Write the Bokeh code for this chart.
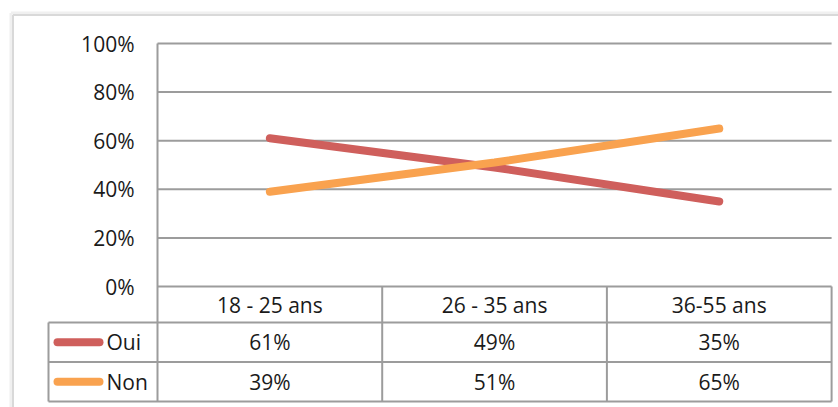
from bokeh.plotting import figure
from bokeh.models import Range1d
from bokeh.embed import file_html
from bokeh.resources import INLINE
from bokeh.core.properties import value

# ---- data ----
categories = ["18 - 25 ans", "26 - 35 ans", "36-55 ans"]
series_names = ["Oui", "Non"]
oui = [61, 49, 35]
non = [39, 51, 65]
y_ticks = [0, 20, 40, 60, 80, 100]
y_tick_labels = ["0%", "20%", "40%", "60%", "80%", "100%"]
colors = ["#cf5f5c", "#f9a24f"]

# ---- style / layout ----
FONT = "Open Sans"
FS = "21px"
TXT = "#1a1a1a"
GRID = "#9c9c9c"
BOX = "#d9d9d9"
SHADOW = "#f0f0f0"

W, H = 838, 407
PLOT_LEFT = 157.0      # px of first category boundary
U = 224.7              # px per category
ZERO_PY = 286.0        # px of 0%
PPP = 2.43             # px per percent
HEADER_BOTTOM = 322.0
ROW_H = 39.5
TABLE_LEFT = 48.0
LABEL_RIGHT = 134.0


def X(px):
    return (px - PLOT_LEFT) / U - 0.5


def Y(py):
    return (ZERO_PY - py) / PPP


n = len(categories)
nr = len(series_names)
xs = list(range(n))
series = [oui, non]

p = figure(width=W, height=H, x_range=Range1d(X(0), X(W)),
           y_range=Range1d(Y(H), Y(0)), output_backend="svg",
           toolbar_location=None, x_axis_location=None, y_axis_location=None,
           min_border=0, outline_line_color=None, background_fill_color="white")
p.xgrid.visible = False
p.ygrid.visible = False

# outer chart box (left + top edges, with a faint shadow)
p.segment(x0=[X(10.5), X(10.5)], y0=[Y(12.5), Y(12.5)],
          x1=[X(10.5), X(W + 5)], y1=[Y(H + 5), Y(12.5)],
          line_color=SHADOW, line_width=3)
p.segment(x0=[X(12.5), X(12.5)], y0=[Y(14.5), Y(14.5)],
          x1=[X(12.5), X(W + 5)], y1=[Y(H + 5), Y(14.5)],
          line_color=BOX, line_width=2)

# horizontal gridlines
right_x = n - 0.5
p.segment(x0=[-0.5] * len(y_ticks), y0=y_ticks, x1=[right_x] * len(y_ticks),
          y1=y_ticks, line_color=GRID, line_width=2)

# y tick labels
p.text(x=[X(LABEL_RIGHT)] * len(y_ticks), y=y_ticks, text=y_tick_labels,
       text_align="right", text_baseline="middle", text_font=value(FONT),
       text_font_size=FS, text_color=TXT)

# table geometry
y_hb = Y(HEADER_BOTTOM)
row_edges = [Y(HEADER_BOTTOM + ROW_H * k) for k in range(nr + 1)]
y_bottom = row_edges[-1]

# plot-area left border (down through table)
p.segment(x0=[-0.5], y0=[max(y_ticks)], x1=[-0.5], y1=[y_bottom],
          line_color=GRID, line_width=2)
# column separators (header + table)
sep_x = [i + 0.5 for i in range(n)]
p.segment(x0=sep_x, y0=[0] * n, x1=sep_x, y1=[y_bottom] * n,
          line_color=GRID, line_width=2)
# table horizontal lines
p.segment(x0=[X(TABLE_LEFT)] * len(row_edges), y0=row_edges,
          x1=[right_x] * len(row_edges), y1=row_edges,
          line_color=GRID, line_width=2)
# table left edge
p.segment(x0=[X(TABLE_LEFT)], y0=[y_hb], x1=[X(TABLE_LEFT)], y1=[y_bottom],
          line_color=GRID, line_width=2)

# header labels
p.text(x=xs, y=[(0 + y_hb) / 2] * n, text=categories, text_align="center",
       text_baseline="middle", text_font=value(FONT), text_font_size=FS,
       text_color=TXT)

# series lines
for vals, col in zip(series, colors):
    p.line(xs, vals, line_color=col, line_width=8, line_cap="round")

# table rows
for r, (name, vals, col) in enumerate(zip(series_names, series, colors)):
    yc = (row_edges[r] + row_edges[r + 1]) / 2
    p.segment(x0=[X(57)], y0=[yc], x1=[X(99)], y1=[yc],
              line_color=col, line_width=8, line_cap="round")
    p.text(x=[X(106)], y=[yc], text=[name], text_align="left",
           text_baseline="middle", text_font=value(FONT), text_font_size=FS,
           text_color=TXT)
    p.text(x=xs, y=[yc] * n, text=[f"{v}%" for v in vals], text_align="center",
           text_baseline="middle", text_font=value(FONT), text_font_size=FS,
           text_color=TXT)

open("out.html", "w").write(file_html(p, INLINE))
